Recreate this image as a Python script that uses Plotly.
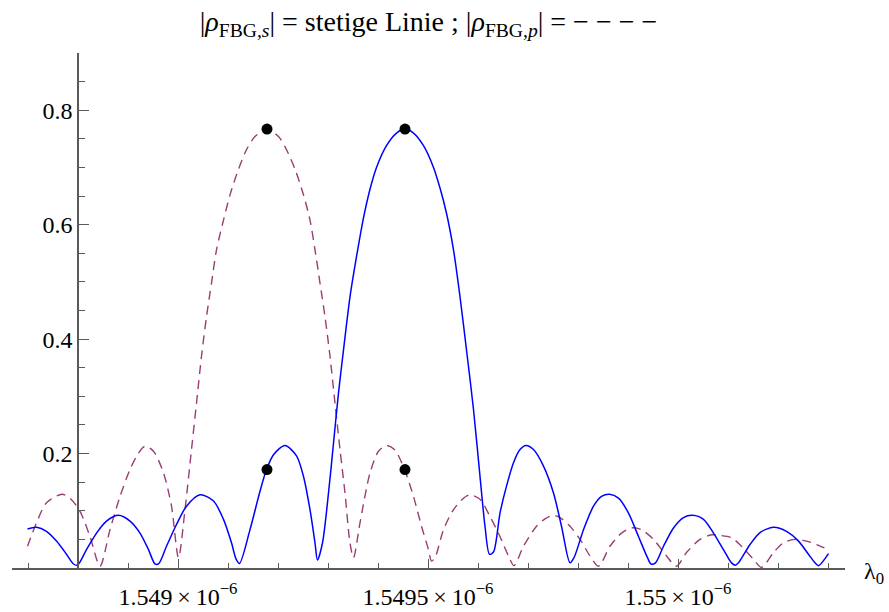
import plotly.graph_objects as go

# Wavelength samples in nm, reflection magnitude |rho| (dimensionless)
lam_s = [1548.699, 1548.717, 1548.737, 1548.757, 1548.777, 1548.791, 1548.799,
         1548.817, 1548.837, 1548.857, 1548.881, 1548.904, 1548.924, 1548.941,
         1548.954, 1548.961, 1548.977, 1548.997, 1549.017, 1549.044, 1549.071,
         1549.091, 1549.107, 1549.116, 1549.123, 1549.144, 1549.164, 1549.177,
         1549.191, 1549.214, 1549.237, 1549.251, 1549.264, 1549.274, 1549.279,
         1549.289, 1549.301, 1549.311, 1549.321, 1549.331, 1549.344, 1549.357,
         1549.371, 1549.384, 1549.397, 1549.417, 1549.437, 1549.454, 1549.471,
         1549.491, 1549.511, 1549.524, 1549.537, 1549.551, 1549.564, 1549.577,
         1549.591, 1549.604, 1549.614, 1549.623, 1549.631, 1549.644, 1549.657,
         1549.671, 1549.684, 1549.696, 1549.711, 1549.731, 1549.751, 1549.767,
         1549.784, 1549.792, 1549.811, 1549.831, 1549.847, 1549.863, 1549.881,
         1549.901, 1549.921, 1549.939, 1549.946, 1549.955, 1549.971, 1549.991,
         1550.011, 1550.029, 1550.051, 1550.071, 1550.091, 1550.107, 1550.115,
         1550.121, 1550.144, 1550.164, 1550.191, 1550.217, 1550.241, 1550.261,
         1550.274, 1550.281, 1550.301]
rho_s = [0.068, 0.071, 0.064, 0.047, 0.024, 0.007, 0.005,
         0.032, 0.061, 0.082, 0.092, 0.082, 0.061, 0.032,
         0.007, 0.007, 0.038, 0.076, 0.108, 0.128, 0.117,
         0.085, 0.044, 0.016, 0.008, 0.067, 0.134, 0.172,
         0.198, 0.214, 0.196, 0.160, 0.102, 0.044, 0.014,
         0.044, 0.131, 0.218, 0.306, 0.381, 0.474, 0.544,
         0.612, 0.662, 0.700, 0.738, 0.760, 0.767, 0.760,
         0.738, 0.700, 0.664, 0.620, 0.556, 0.474, 0.381,
         0.277, 0.160, 0.073, 0.024, 0.028, 0.096, 0.143,
         0.184, 0.207, 0.214, 0.207, 0.178, 0.131, 0.073,
         0.009, 0.018, 0.067, 0.108, 0.125, 0.129, 0.122,
         0.096, 0.055, 0.018, 0.007, 0.009, 0.038, 0.070,
         0.088, 0.092, 0.085, 0.061, 0.032, 0.009, 0.005,
         0.009, 0.041, 0.062, 0.071, 0.064, 0.047, 0.024,
         0.009, 0.004, 0.025]

lam_p = [1548.699, 1548.717, 1548.737, 1548.768, 1548.784, 1548.804, 1548.824,
         1548.844, 1548.864, 1548.884, 1548.904, 1548.921, 1548.934, 1548.951,
         1548.971, 1548.987, 1549.001, 1549.014, 1549.027, 1549.037, 1549.047,
         1549.057, 1549.067, 1549.077, 1549.091, 1549.104, 1549.121, 1549.137,
         1549.154, 1549.177, 1549.201, 1549.217, 1549.234, 1549.251, 1549.264,
         1549.274, 1549.284, 1549.294, 1549.304, 1549.314, 1549.324, 1549.334,
         1549.344, 1549.351, 1549.364, 1549.384, 1549.401, 1549.417, 1549.434,
         1549.453, 1549.471, 1549.487, 1549.501, 1549.507, 1549.514, 1549.531,
         1549.551, 1549.571, 1549.584, 1549.604, 1549.624, 1549.644, 1549.661,
         1549.672, 1549.691, 1549.717, 1549.734, 1549.750, 1549.764, 1549.784,
         1549.804, 1549.824, 1549.841, 1549.864, 1549.887, 1549.907, 1549.927,
         1549.951, 1549.977, 1549.997, 1550.017, 1550.044, 1550.067, 1550.084,
         1550.107, 1550.127, 1550.151, 1550.167, 1550.191, 1550.211, 1550.234,
         1550.257, 1550.277, 1550.301]
rho_p = [0.038, 0.079, 0.114, 0.129, 0.122, 0.099, 0.055,
         0.003, 0.067, 0.125, 0.172, 0.201, 0.213, 0.204,
         0.166, 0.108, 0.018, 0.102, 0.207, 0.288, 0.370,
         0.439, 0.498, 0.556, 0.608, 0.652, 0.697, 0.731,
         0.754, 0.767, 0.754, 0.731, 0.697, 0.652, 0.608,
         0.556, 0.498, 0.439, 0.370, 0.288, 0.207, 0.131,
         0.044, 0.018, 0.079, 0.166, 0.204, 0.214, 0.206,
         0.172, 0.125, 0.073, 0.032, 0.012, 0.018, 0.067,
         0.102, 0.122, 0.128, 0.120, 0.090, 0.055, 0.021,
         0.004, 0.038, 0.073, 0.086, 0.092, 0.088, 0.073,
         0.050, 0.021, 0.003, 0.038, 0.061, 0.070, 0.067,
         0.050, 0.021, 0.003, 0.027, 0.050, 0.058, 0.057,
         0.053, 0.038, 0.015, 0.001, 0.027, 0.044, 0.050,
         0.047, 0.041, 0.032]

# Marked points: peak and cross values at the two Bragg wavelengths
mark_lam = [1549.178, 1549.454, 1549.178, 1549.454]
mark_rho = [0.767, 0.767, 0.172, 0.172]

x_tickvals = [1549.0, 1549.5, 1550.0]
x_ticktext = ["1.549\u2009×\u200910<sup>−6</sup>",
              "1.5495\u2009×\u200910<sup>−6</sup>",
              "1.55\u2009×\u200910<sup>−6</sup>"]
y_tickvals = [0.2, 0.4, 0.6, 0.8]
y_ticktext = ["0.2", "0.4", "0.6", "0.8"]

W, H = 889, 612
ML, MR, MT, MB = 12, 44, 53, 44
x_range = [1548.668, 1550.334]
y_range = [0.0, 0.9]
y_axis_at = 1548.8  # wavelength where the vertical axis crosses

axis_color = "#5a5a5a"
serif = "Liberation Serif, Times New Roman, serif"

fig = go.Figure()
fig.add_trace(go.Scatter(x=lam_p, y=rho_p, mode="lines",
                         line=dict(color="#993d74", width=1.4, dash="9px,6px",
                                   shape="spline", smoothing=0.8),
                         hoverinfo="skip"))
fig.add_trace(go.Scatter(x=lam_s, y=rho_s, mode="lines",
                         line=dict(color="#0000ff", width=1.5,
                                   shape="spline", smoothing=0.8),
                         hoverinfo="skip"))
fig.add_trace(go.Scatter(x=mark_lam, y=mark_rho, mode="markers",
                         marker=dict(color="black", size=11),
                         hoverinfo="skip"))

pos = (y_axis_at - x_range[0]) / (x_range[1] - x_range[0])

fig.update_layout(
    width=W, height=H,
    margin=dict(l=ML, r=MR, t=MT, b=MB),
    paper_bgcolor="white", plot_bgcolor="white",
    showlegend=False,
    font=dict(family=serif, size=24, color="black"),
    title=dict(
        text="|<i>ρ</i><sub>FBG,<i>s</i></sub>| = stetige Linie ; "
             "|<i>ρ</i><sub>FBG,<i>p</i></sub>| = − − − −",
        x=0.5, xref="paper", xanchor="center",
        y=1 - 21 / H, yref="container", yanchor="middle",
        font=dict(family=serif, size=28, color="black"),
    ),
    xaxis=dict(
        range=x_range, showgrid=False, zeroline=False, automargin=False,
        showline=True, linecolor=axis_color, linewidth=1.5,
        tickmode="array", tickvals=x_tickvals, ticktext=x_ticktext,
        ticks="inside", ticklen=9, tickwidth=1.3, tickcolor=axis_color,
        tickfont=dict(family=serif, size=24, color="black"),
        ticklabelstandoff=6,
        minor=dict(tick0=1549.0, dtick=0.1, ticks="inside", ticklen=5,
                   tickwidth=1.2, tickcolor=axis_color),
    ),
    yaxis=dict(
        range=y_range, showgrid=False, zeroline=False, automargin=False,
        anchor="free", position=pos,
        showline=True, linecolor=axis_color, linewidth=1.5,
        tickmode="array", tickvals=y_tickvals, ticktext=y_ticktext,
        ticks="inside", ticklen=10, tickwidth=1.3, tickcolor=axis_color,
        tickfont=dict(family=serif, size=24, color="black"),
        minor=dict(tick0=0, dtick=0.05, ticks="inside", ticklen=6,
                   tickwidth=1.2, tickcolor=axis_color),
    ),
)

fig.add_annotation(
    text="λ<sub>0</sub>", xref="paper", yref="paper",
    x=(874 - ML) / (W - ML - MR), y=-5 / (H - MT - MB),
    xanchor="center", yanchor="middle", showarrow=False,
    font=dict(family=serif, size=24, color="black"),
)

fig.write_html("out.html")
